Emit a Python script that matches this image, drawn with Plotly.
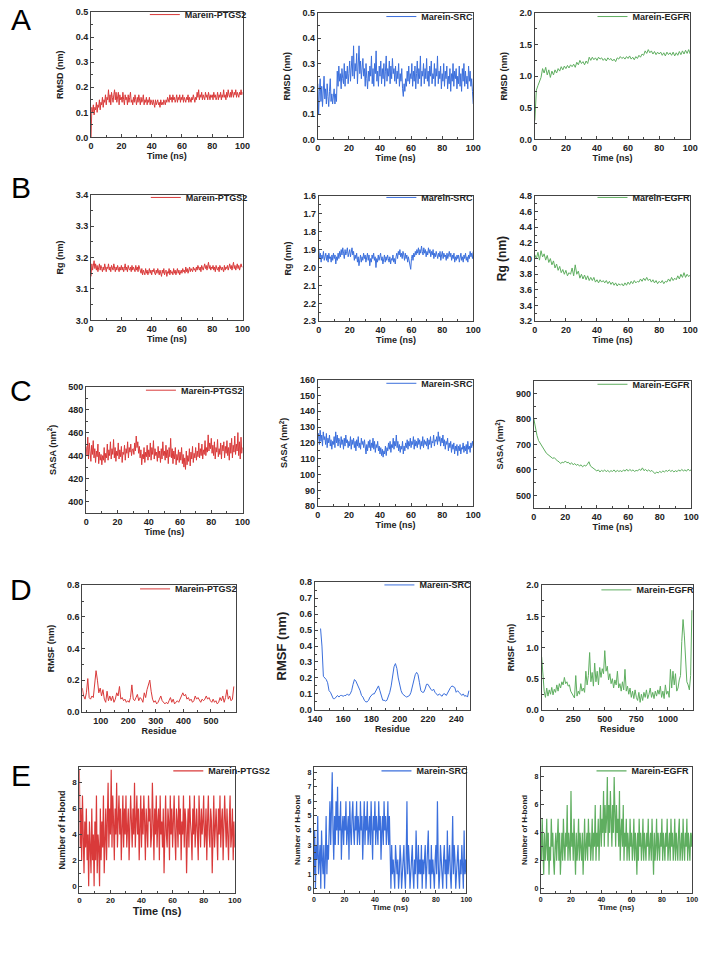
import plotly.graph_objects as go

W, H = 708, 957

# ---------------- DATA ----------------
time_1ns = list(range(0, 101))
time_05ns = [i * 0.5 for i in range(201)]

rmsd_ptgs2 = [0.00, 0.12, 0.10, 0.13, 0.09, 0.12, 0.11, 0.14, 0.10, 0.13, 0.12, 0.15, 0.11, 0.14, 0.13, 0.16, 0.12, 0.15, 0.14, 0.17,
              0.13, 0.16, 0.15, 0.19, 0.14, 0.17, 0.13, 0.18, 0.16, 0.14, 0.17, 0.19, 0.15, 0.18, 0.14, 0.16, 0.18, 0.13, 0.17, 0.15,
              0.16, 0.14, 0.18, 0.15, 0.13, 0.17, 0.15, 0.16, 0.13, 0.17, 0.14, 0.16, 0.18, 0.14, 0.15, 0.13, 0.16, 0.14, 0.17, 0.15,
              0.13, 0.16, 0.14, 0.17, 0.15, 0.13, 0.16, 0.14, 0.15, 0.17, 0.13, 0.15, 0.14, 0.16, 0.13, 0.15, 0.14, 0.16, 0.13, 0.15,
              0.14, 0.13, 0.15, 0.14, 0.12, 0.15, 0.13, 0.14, 0.15, 0.13, 0.14, 0.12, 0.15, 0.13, 0.14, 0.13, 0.15, 0.14, 0.13, 0.15,
              0.14, 0.16, 0.15, 0.14, 0.17, 0.15, 0.16, 0.14, 0.17, 0.15, 0.16, 0.14, 0.15, 0.17, 0.14, 0.16, 0.15, 0.17, 0.14, 0.16,
              0.15, 0.17, 0.14, 0.16, 0.15, 0.14, 0.16, 0.15, 0.17, 0.14, 0.16, 0.15, 0.14, 0.16, 0.15, 0.17, 0.16, 0.14, 0.16, 0.15,
              0.18, 0.16, 0.19, 0.15, 0.17, 0.16, 0.18, 0.15, 0.17, 0.16, 0.15, 0.18, 0.16, 0.17, 0.15, 0.18, 0.16, 0.15, 0.17, 0.16,
              0.17, 0.15, 0.18, 0.16, 0.17, 0.15, 0.16, 0.18, 0.15, 0.17, 0.16, 0.18, 0.15, 0.17, 0.16, 0.19, 0.16, 0.17, 0.15, 0.18,
              0.16, 0.19, 0.17, 0.16, 0.18, 0.16, 0.19, 0.17, 0.16, 0.18, 0.17, 0.19, 0.16, 0.18, 0.17, 0.16, 0.18, 0.17, 0.19, 0.17,
              0.18]
rmsd_src = [0.22, 0.10, 0.19, 0.24, 0.15, 0.21, 0.13, 0.18, 0.25, 0.16, 0.20, 0.14, 0.22, 0.17, 0.13, 0.19, 0.24, 0.15, 0.18, 0.14,
            0.17, 0.20, 0.14, 0.18, 0.15, 0.27, 0.21, 0.29, 0.23, 0.26, 0.20, 0.28, 0.24, 0.22, 0.30, 0.21, 0.27, 0.24, 0.29, 0.22,
            0.26, 0.31, 0.23, 0.28, 0.33, 0.25, 0.37, 0.24, 0.30, 0.27, 0.34, 0.22, 0.29, 0.37, 0.26, 0.31, 0.24, 0.29, 0.32, 0.25,
            0.28, 0.21, 0.30, 0.24, 0.20, 0.27, 0.23, 0.29, 0.25, 0.33, 0.22, 0.28, 0.21, 0.30, 0.26, 0.35, 0.23, 0.27, 0.21, 0.29,
            0.25, 0.31, 0.22, 0.28, 0.24, 0.30, 0.21, 0.27, 0.33, 0.23, 0.28, 0.25, 0.31, 0.22, 0.29, 0.24, 0.32, 0.26, 0.28, 0.23,
            0.29, 0.22, 0.27, 0.24, 0.30, 0.21, 0.26, 0.23, 0.28, 0.20, 0.17, 0.22, 0.19, 0.24, 0.21, 0.27, 0.23, 0.29, 0.22, 0.26,
            0.24, 0.30, 0.21, 0.27, 0.23, 0.29, 0.20, 0.26, 0.31, 0.22, 0.28, 0.24, 0.33, 0.21, 0.27, 0.25, 0.30, 0.22, 0.28, 0.24,
            0.32, 0.23, 0.27, 0.21, 0.29, 0.25, 0.31, 0.22, 0.26, 0.24, 0.30, 0.21, 0.28, 0.25, 0.33, 0.22, 0.27, 0.24, 0.29, 0.20,
            0.26, 0.23, 0.30, 0.21, 0.27, 0.24, 0.29, 0.20, 0.25, 0.22, 0.28, 0.19, 0.26, 0.23, 0.30, 0.21, 0.27, 0.24, 0.28, 0.20,
            0.25, 0.22, 0.29, 0.21, 0.26, 0.19, 0.28, 0.23, 0.30, 0.21, 0.27, 0.22, 0.25, 0.20, 0.29, 0.23, 0.27, 0.21, 0.24, 0.19,
            0.14]
rmsd_egfr = [0.30, 0.78, 0.85, 0.92, 0.98, 1.12, 1.05, 1.14, 1.02, 1.10,
             0.98, 1.08, 1.02, 1.10, 1.05, 1.12, 1.08, 1.15, 1.10, 1.16,
             1.12, 1.17, 1.13, 1.18, 1.15, 1.19, 1.14, 1.22, 1.18, 1.25,
             1.20, 1.23, 1.18, 1.24, 1.20, 1.30, 1.25, 1.30, 1.26, 1.29,
             1.25, 1.30, 1.27, 1.29, 1.25, 1.28, 1.24, 1.29, 1.26, 1.28,
             1.24, 1.27, 1.23, 1.29, 1.27, 1.31, 1.28, 1.30, 1.27, 1.31,
             1.28, 1.32, 1.27, 1.30, 1.26, 1.31, 1.28, 1.33, 1.30, 1.35,
             1.33, 1.40, 1.36, 1.42, 1.37, 1.40, 1.35, 1.39, 1.34, 1.38,
             1.35, 1.38, 1.33, 1.37, 1.32, 1.38, 1.34, 1.37, 1.33, 1.38,
             1.32, 1.37, 1.33, 1.39, 1.34, 1.40, 1.35, 1.41, 1.36, 1.42,
             1.35]

rg_ptgs2 = [3.14, 3.18, 3.16, 3.175, 3.19, 3.165, 3.18, 3.16, 3.175, 3.155, 3.17, 3.18, 3.16, 3.175, 3.165, 3.155, 3.17, 3.16, 3.18, 3.165,
            3.155, 3.17, 3.165, 3.18, 3.16, 3.17, 3.155, 3.175, 3.165, 3.16, 3.18, 3.165, 3.155, 3.17, 3.16, 3.175, 3.165, 3.155, 3.17, 3.16,
            3.175, 3.16, 3.17, 3.155, 3.165, 3.18, 3.16, 3.17, 3.155, 3.175, 3.165, 3.16, 3.17, 3.155, 3.175, 3.16, 3.17, 3.165, 3.155, 3.175,
            3.16, 3.17, 3.155, 3.175, 3.165, 3.16, 3.15, 3.165, 3.145, 3.16, 3.155, 3.145, 3.165, 3.15, 3.16, 3.145, 3.155, 3.165, 3.15, 3.16,
            3.145, 3.16, 3.155, 3.165, 3.15, 3.145, 3.16, 3.15, 3.165, 3.155, 3.145, 3.16, 3.15, 3.14, 3.16, 3.15, 3.165, 3.145, 3.155, 3.16,
            3.14, 3.155, 3.15, 3.165, 3.145, 3.16, 3.15, 3.155, 3.145, 3.165, 3.15, 3.16, 3.145, 3.155, 3.165, 3.15, 3.16, 3.145, 3.155, 3.16,
            3.15, 3.165, 3.155, 3.16, 3.15, 3.17, 3.155, 3.165, 3.15, 3.16, 3.17, 3.155, 3.165, 3.16, 3.155, 3.17, 3.16, 3.165, 3.155, 3.17,
            3.16, 3.175, 3.165, 3.16, 3.17, 3.155, 3.175, 3.165, 3.16, 3.17, 3.18, 3.165, 3.175, 3.16, 3.17, 3.185, 3.165, 3.175, 3.16, 3.17,
            3.165, 3.175, 3.16, 3.17, 3.155, 3.175, 3.165, 3.16, 3.17, 3.155, 3.175, 3.165, 3.16, 3.17, 3.165, 3.155, 3.175, 3.16, 3.17, 3.165,
            3.175, 3.16, 3.17, 3.18, 3.165, 3.175, 3.16, 3.17, 3.185, 3.165, 3.175, 3.16, 3.17, 3.18, 3.165, 3.175, 3.16, 3.17, 3.18, 3.17,
            3.17]
rg_src = [1.90, 1.95, 1.92, 1.97, 1.93, 1.95, 1.91, 1.96, 1.94, 1.92, 1.96, 1.93, 1.97, 1.92, 1.95, 1.94, 1.97, 1.93, 1.96, 1.92,
          1.95, 1.93, 1.98, 1.94, 1.96, 1.92, 1.95, 1.91, 1.94, 1.90, 1.93, 1.89, 1.92, 1.95, 1.90, 1.93, 1.91, 1.89, 1.94, 1.92,
          1.90, 1.94, 1.92, 1.89, 1.93, 1.91, 1.96, 1.93, 1.95, 1.92, 1.97, 1.94, 1.99, 1.95, 1.93, 1.97, 1.94, 1.96, 1.92, 1.95,
          1.93, 1.97, 1.94, 1.92, 1.96, 1.93, 1.99, 1.95, 1.97, 1.93, 1.95, 1.92, 1.96, 1.94, 2.00, 1.95, 1.97, 1.93, 1.96, 1.94,
          1.92, 1.96, 1.94, 1.98, 1.95, 1.93, 1.97, 1.94, 1.96, 1.93, 1.95, 1.97, 1.94, 1.98, 1.95, 1.96, 1.93, 1.97, 1.95, 1.98,
          1.94, 1.92, 1.95, 1.91, 1.93, 1.90, 1.94, 1.92, 1.95, 1.91, 1.93, 1.96, 1.92, 1.95, 1.93, 1.97, 1.94, 1.96, 1.98, 2.01,
          1.95, 1.93, 1.96, 1.92, 1.94, 1.91, 1.93, 1.90, 1.92, 1.89, 1.93, 1.90, 1.92, 1.88, 1.91, 1.93, 1.89, 1.92, 1.90, 1.94,
          1.91, 1.93, 1.89, 1.92, 1.90, 1.94, 1.91, 1.93, 1.90, 1.95, 1.92, 1.94, 1.91, 1.93, 1.95, 1.92, 1.94, 1.91, 1.96, 1.93,
          1.91, 1.95, 1.92, 1.94, 1.93, 1.96, 1.92, 1.95, 1.93, 1.91, 1.94, 1.92, 1.96, 1.93, 1.95, 1.92, 1.97, 1.94, 1.96, 1.93,
          1.95, 1.93, 1.97, 1.94, 1.92, 1.96, 1.94, 1.97, 1.93, 1.95, 1.92, 1.96, 1.94, 1.97, 1.93, 1.95, 1.91, 1.94, 1.92, 1.95,
          1.91]
rg_egfr = [4.05, 4.00, 4.08, 3.98, 4.10, 4.02, 4.06, 3.98, 4.04, 3.95,
           4.00, 3.92, 3.97, 3.88, 3.93, 3.85, 3.90, 3.82, 3.86, 3.80,
           3.85, 3.78, 3.82, 3.80, 3.88, 3.78, 3.92, 3.80, 3.84, 3.75,
           3.80, 3.74, 3.79, 3.73, 3.78, 3.72, 3.76, 3.72, 3.76, 3.70,
           3.73, 3.69, 3.73, 3.70, 3.72, 3.69, 3.72, 3.68, 3.71, 3.67,
           3.70, 3.66, 3.69, 3.65, 3.68, 3.66, 3.68, 3.65, 3.69, 3.66,
           3.70, 3.67, 3.71, 3.68, 3.72, 3.69, 3.71, 3.70, 3.74, 3.71,
           3.75, 3.72, 3.76, 3.72, 3.74, 3.70, 3.73, 3.69, 3.72, 3.68,
           3.71, 3.69, 3.72, 3.68, 3.71, 3.70, 3.74, 3.71, 3.76, 3.72,
           3.75, 3.73, 3.78, 3.74, 3.80, 3.76, 3.82, 3.76, 3.80, 3.77,
           3.79]

sasa_ptgs2 = [448, 440, 456, 437, 451, 443, 435, 449, 441, 453, 438, 446, 434, 444, 439, 450, 433, 443, 436, 441,
              432, 440, 436, 447, 434, 442, 438, 450, 436, 445, 440, 452, 437, 446, 441, 454, 438, 447, 435, 444,
              440, 451, 437, 445, 439, 448, 434, 443, 441, 449, 436, 446, 442, 452, 438, 447, 443, 450, 440, 445,
              446, 441, 451, 444, 457, 447, 452, 442, 448, 438, 445, 432, 441, 437, 447, 434, 443, 439, 449, 436,
              445, 439, 451, 436, 447, 441, 453, 437, 446, 440, 443, 435, 448, 438, 444, 434, 446, 437, 452, 440,
              444, 436, 449, 438, 445, 433, 447, 439, 455, 438, 446, 433, 444, 437, 447, 432, 441, 436, 445, 434,
              443, 436, 447, 433, 441, 430, 438, 428, 444, 432, 440, 435, 446, 431, 443, 437, 448, 434, 442, 438,
              447, 436, 444, 439, 451, 438, 446, 440, 450, 437, 445, 441, 453, 440, 447, 443, 458, 444, 451, 446,
              455, 442, 449, 440, 452, 437, 447, 443, 454, 439, 446, 441, 451, 437, 449, 444, 452, 438, 448, 442,
              453, 440, 447, 436, 451, 442, 455, 438, 449, 443, 457, 441, 450, 444, 460, 440, 452, 437, 456, 442,
              447]
sasa_src = [122, 126, 119, 128, 121, 125, 118, 127, 122, 124, 119, 126, 117, 123, 120, 125, 118, 122, 116, 121,
            119, 124, 117, 127, 120, 125, 118, 123, 121, 117, 124, 119, 122, 116, 123, 118, 125, 120, 122, 117,
            121, 118, 124, 116, 122, 119, 123, 117, 121, 115, 122, 118, 124, 117, 120, 116, 123, 119, 121, 117,
            122, 116, 113, 119, 115, 121, 117, 122, 115, 120, 117, 123, 116, 121, 114, 119, 117, 121, 115, 118,
            113, 117, 112, 116, 111, 115, 113, 118, 112, 117, 115, 120, 116, 121, 114, 119, 117, 123, 116, 121,
            118, 125, 117, 121, 115, 119, 114, 118, 116, 121, 113, 118, 115, 120, 117, 122, 116, 121, 118, 123,
            117, 121, 119, 124, 116, 122, 118, 121, 117, 123, 119, 122, 116, 121, 118, 124, 117, 122, 119, 121,
            118, 123, 116, 122, 119, 124, 117, 121, 120, 125, 118, 122, 121, 124, 119, 127, 121, 124, 118, 123,
            120, 125, 118, 122, 116, 121, 119, 123, 115, 120, 117, 121, 114, 119, 116, 120, 113, 118, 115, 119,
            112, 118, 115, 119, 113, 117, 116, 120, 114, 118, 115, 119, 113, 121, 116, 118, 114, 120, 117, 121,
            118]
sasa_egfr = [800, 760, 735, 715, 705, 690, 685, 670, 665, 660,
             655, 650, 645, 648, 640, 635, 632, 625, 630, 628,
             635, 628, 630, 622, 628, 620, 625, 618, 622, 615,
             620, 612, 618, 615, 622, 632, 615, 610, 605, 600,
             596, 600, 592, 598, 594, 600, 593, 598, 592, 597,
             594, 600, 592, 598, 594, 597, 593, 600, 595, 603,
             595, 602, 596, 600, 594, 598, 596, 603, 598, 608,
             597, 602, 595, 600, 594, 598, 590, 585, 592, 588,
             594, 590, 596, 592, 598, 594, 600, 594, 598, 592,
             597, 593, 600, 595, 602, 596, 600, 595, 603, 597,
             600]

residue_ptgs2 = list(range(33, 584, 5))
rmsf_ptgs2 = [0.15, 0.10, 0.08, 0.12, 0.21, 0.09, 0.08, 0.10, 0.09, 0.16,
              0.26, 0.20, 0.12, 0.15, 0.10, 0.14, 0.08, 0.06, 0.13, 0.07,
              0.10, 0.07, 0.10, 0.06, 0.08, 0.12, 0.10, 0.16, 0.08, 0.09,
              0.07, 0.08, 0.06, 0.07, 0.06, 0.09, 0.17, 0.08, 0.07, 0.09,
              0.11, 0.07, 0.09, 0.08, 0.06, 0.12, 0.09, 0.14, 0.17, 0.20,
              0.13, 0.08, 0.06, 0.07, 0.05, 0.06, 0.08, 0.10, 0.07, 0.06,
              0.05, 0.06, 0.05, 0.07, 0.09, 0.06, 0.08, 0.05, 0.06, 0.07,
              0.06, 0.08, 0.10, 0.12, 0.10, 0.11, 0.08, 0.09, 0.07, 0.08,
              0.06, 0.07, 0.10, 0.08, 0.09, 0.07, 0.06, 0.08, 0.07, 0.08,
              0.10, 0.08, 0.09, 0.07, 0.06, 0.08, 0.06, 0.07, 0.05, 0.06,
              0.09, 0.07, 0.10, 0.06, 0.09, 0.14, 0.08, 0.10, 0.07, 0.08,
              0.16]
residue_src = list(range(144, 250))
rmsf_src = [0.51, 0.40, 0.21, 0.20, 0.19, 0.17, 0.12, 0.11, 0.09, 0.07,
            0.07, 0.08, 0.09, 0.08, 0.09, 0.09, 0.085, 0.09, 0.09, 0.10,
            0.09, 0.10, 0.12, 0.16, 0.19, 0.18, 0.16, 0.15, 0.12, 0.09,
            0.08, 0.06, 0.05, 0.05, 0.06, 0.08, 0.09, 0.10, 0.10, 0.12,
            0.14, 0.15, 0.12, 0.08, 0.06, 0.06, 0.055, 0.06, 0.08, 0.11,
            0.15, 0.21, 0.27, 0.29, 0.26, 0.20, 0.15, 0.12, 0.10, 0.09,
            0.085, 0.08, 0.085, 0.09, 0.11, 0.15, 0.19, 0.22, 0.235, 0.22,
            0.17, 0.12, 0.11, 0.11, 0.13, 0.16, 0.16, 0.14, 0.13, 0.12,
            0.13, 0.11, 0.10, 0.09, 0.10, 0.09, 0.085, 0.10, 0.10, 0.09,
            0.11, 0.13, 0.14, 0.15, 0.145, 0.14, 0.11, 0.12, 0.11, 0.10,
            0.09, 0.10, 0.085, 0.09, 0.08, 0.12]
residue_egfr = list(range(0, 1200, 10))
rmsf_egfr = [0.85, 0.55, 0.30, 0.20, 0.35, 0.22, 0.32, 0.25, 0.36, 0.24,
             0.33, 0.28, 0.40, 0.30, 0.42, 0.35, 0.45, 0.40, 0.52, 0.42,
             0.45, 0.38, 0.40, 0.30, 0.26, 0.22, 0.19, 0.55, 0.22, 0.30,
             0.25, 0.42, 0.30, 0.35, 0.28, 0.62, 0.40, 0.55, 0.92, 0.45,
             0.60, 0.38, 0.75, 0.45, 0.62, 0.40, 0.68, 0.52, 0.66, 0.58,
             0.95, 0.62, 0.70, 0.48, 0.58, 0.42, 0.50, 0.35, 0.48, 0.40,
             0.62, 0.35, 0.42, 0.30, 0.45, 0.32, 0.65, 0.30, 0.38, 0.25,
             0.35, 0.20, 0.30, 0.18, 0.32, 0.20, 0.15, 0.28, 0.12, 0.25,
             0.15, 0.28, 0.20, 0.32, 0.18, 0.25, 0.35, 0.20, 0.28, 0.18,
             0.30, 0.22, 0.32, 0.25, 0.38, 0.20, 0.30, 0.18, 0.40, 0.25,
             0.30, 0.20, 0.65, 0.35, 0.62, 0.40, 0.58, 0.30, 0.35, 0.48,
             0.55, 1.10, 1.45, 1.20, 0.70, 0.45, 0.40, 0.32, 0.55, 1.60]

hbond_ptgs2 = [9, 3, 6, 2, 7, 4, 1, 5, 3, 6, 2, 4, 0, 5, 3, 1, 6, 2, 4, 0,
               5, 2, 7, 1, 4, 3, 0, 6, 2, 5, 3, 7, 1, 4, 6, 2, 5, 8, 3, 6,
               4, 9, 3, 7, 5, 2, 6, 4, 8, 3, 5, 7, 4, 6, 2, 5, 7, 3, 6, 4,
               7, 3, 5, 6, 2, 4, 7, 5, 3, 6, 4, 8, 3, 5, 7, 4, 6, 2, 5, 7,
               3, 6, 4, 7, 5, 2, 6, 4, 3, 7, 5, 6, 3, 4, 8, 5, 2, 6, 4, 7,
               3, 5, 6, 2, 7, 4, 5, 3, 6, 1, 5, 7, 4, 3, 6, 5, 2, 7, 4, 6,
               3, 5, 7, 4, 2, 6, 5, 3, 7, 4, 6, 2, 5, 4, 7, 3, 6, 5, 1, 4,
               6, 3, 7, 5, 4, 2, 6, 4, 7, 3, 5, 6, 4, 2, 7, 5, 3, 6, 4, 5,
               7, 3, 4, 6, 2, 5, 7, 4, 3, 6, 5, 1, 4, 7, 3, 5, 6, 4, 2, 6,
               4, 7, 3, 5, 6, 2, 4, 7, 5, 3, 6, 4, 2, 5, 7, 3, 4, 6, 2, 5,
               3]
hbond_src = [1, 4, 0, 3, 2, 5, 1, 2, 3, 0, 4, 2, 1, 3, 0, 2, 5, 1, 3, 2,
             4, 6, 3, 5, 8, 4, 2, 5, 3, 6, 4, 7, 3, 5, 4, 6, 2, 4, 5, 3,
             5, 4, 6, 3, 4, 5, 2, 6, 4, 3, 5, 6, 4, 3, 5, 4, 6, 3, 5, 4,
             3, 6, 4, 5, 2, 4, 6, 3, 5, 4, 6, 3, 4, 5, 3, 6, 4, 2, 5, 4,
             6, 3, 5, 4, 3, 6, 4, 5, 2, 4, 5, 3, 6, 4, 5, 3, 4, 6, 3, 5,
             2, 0, 3, 1, 2, 1, 0, 3, 2, 1, 2, 0, 1, 3, 2, 0, 1, 2, 3, 1,
             0, 2, 6, 1, 3, 2, 0, 1, 2, 3, 1, 0, 2, 1, 4, 2, 0, 3, 1, 2,
             1, 3, 0, 2, 1, 2, 3, 0, 1, 2, 4, 1, 2, 0, 3, 1, 2, 1, 0, 2,
             3, 1, 6, 2, 0, 1, 3, 2, 1, 0, 2, 3, 1, 2, 0, 4, 1, 2, 3, 1,
             0, 2, 5, 1, 3, 2, 0, 1, 2, 3, 1, 0, 2, 1, 3, 2, 0, 4, 1, 2,
             1]
hbond_egfr = [4, 2, 5, 3, 1, 4, 2, 3, 5, 2, 4, 1, 3, 2, 5, 3, 4, 2, 1, 3,
              4, 2, 3, 5, 2, 4, 1, 3, 4, 2, 5, 3, 2, 4, 3, 6, 2, 4, 3, 2,
              7, 3, 4, 2, 5, 3, 1, 4, 2, 3, 5, 2, 4, 3, 2, 4, 1, 3, 5, 2,
              3, 4, 2, 5, 3, 4, 2, 3, 5, 2, 4, 3, 6, 2, 4, 3, 5, 2, 4, 6,
              3, 5, 4, 7, 3, 6, 4, 5, 8, 3, 6, 4, 7, 5, 3, 6, 4, 8, 5, 3,
              6, 4, 5, 3, 7, 2, 4, 5, 3, 6, 2, 4, 3, 5, 2, 4, 3, 2, 5, 3,
              4, 2, 3, 5, 2, 4, 3, 1, 4, 2, 5, 3, 4, 2, 3, 5, 2, 4, 3, 2,
              4, 3, 5, 2, 3, 4, 2, 5, 3, 1, 4, 2, 3, 5, 2, 4, 3, 2, 4, 3,
              5, 2, 4, 3, 2, 4, 3, 5, 2, 3, 4, 2, 5, 3, 4, 2, 3, 5, 2, 4,
              3, 2, 4, 5, 2, 3, 4, 2, 5, 3, 2, 4, 3, 5, 2, 4, 3, 2, 4, 3,
              4]

names = ["Marein-PTGS2", "Marein-SRC", "Marein-EGFR"]
colors = ["#d93a3a", "#3b6fdc", "#5fae60"]
row_letters = ["A", "B", "C", "D", "E"]

# ---------------- LAYOUT SPEC ----------------
FONT = "Arial, Liberation Sans, sans-serif"
panels = [
    (time_05ns, rmsd_ptgs2, 85, 240, 6, 133, [0, 100], 20, 0, 10, [0, 0.5], 0.1, 0, 0.05, "Time (ns)", "RMSD (nm)", 186, 11, 9, 9, 9, ".1f"),
    (time_05ns, rmsd_src, 317, 476, 7, 135, [0, 100], 20, 0, 10, [0, 0.5], 0.1, 0, 0.05, "Time (ns)", "RMSD (nm)", 428, 13, 9, 9, 9, ".1f"),
    (time_1ns, rmsd_egfr, 539, 698, 7, 135, [0, 100], 20, 0, 10, [0, 2.0], 0.5, 0, 0.25, "Time (ns)", "RMSD (nm)", 644, 13, 9, 9, 9, ".1f"),
    (time_05ns, rg_ptgs2, 85, 240, 191, 318, [0, 100], 20, 0, 10, [3.0, 3.4], 0.1, 3.0, 0.05, "Time (ns)", "Rg (nm)", 187, 196, 9, 9, 9, ".1f"),
    (time_05ns, rg_src, 318, 476, 192, 319, [0, 100], 20, 0, 10, [2.3, 1.6], 0.1, 1.6, 0.05, "Time (ns)", "Rg (nm)", 428, 196, 9, 9, 9, ".1f"),
    (time_1ns, rg_egfr, 539, 698, 192, 319, [0, 100], 20, 0, 10, [3.2, 4.8], 0.2, 3.2, 0.1, "Time (ns)", "Rg (nm)", 644, 196, 12, 9, 9, ".1f"),
    (time_05ns, sasa_ptgs2, 80, 240, 385, 513, [0, 100], 20, 0, 10, [390, 500], 20, 400, 10, "Time (ns)", "SASA (nm<sup>2</sup>)", 182, 391, 9, 9, 9, "d"),
    (time_05ns, sasa_src, 317, 476, 378, 506, [0, 100], 20, 0, 10, [80, 160], 10, 80, 5, "Time (ns)", "SASA (nm<sup>2</sup>)", 428, 384, 9, 9, 9, "d"),
    (time_1ns, sasa_egfr, 538, 699, 379, 508, [0, 100], 20, 0, 10, [450, 950], 100, 500, 50, "Time (ns)", "SASA (nm<sup>2</sup>)", 644, 385, 9, 9, 9, "d"),
    (residue_ptgs2, rmsf_ptgs2, 76, 233, 586, 714, [33, 590], 100, 100, 50, [0, 0.8], 0.2, 0, 0.1, "Residue", "RMSF (nm)", 176, 592, 9, 9, 9, ".1f"),
    (residue_src, rmsf_src, 314, 473, 583, 712, [140, 250], 20, 140, 10, [0, 0.8], 0.1, 0, 0.05, "Residue", "RMSF (nm)", 426, 588, 13, 9, 9, ".1f"),
    (residue_egfr, rmsf_egfr, 546, 701, 586, 712, [0, 1200], 250, 0, 125, [0, 2.0], 0.5, 0, 0.25, "Residue", "RMSF (nm)", 648, 593, 9, 9, 9, ".1f"),
    (time_05ns, hbond_ptgs2, 73, 232, 770, 897, [0, 100], 20, 0, 10, [-0.5, 9.2], 2, 0, 1, "Time (ns)", "Number of H-bond", 210, 776, 9, 11, 8, "d"),
    (time_05ns, hbond_src, 313, 469, 770, 897, [0, 100], 20, 0, 10, [-0.27, 8.35], 1, 0, 0.5, "Time (ns)", "Number of H-bond", 423, 776, 8, 8, 7, "d"),
    (time_05ns, hbond_egfr, 545, 700, 770, 897, [0, 100], 20, 0, 10, [-0.28, 8.7], 2, 0, 1, "Time (ns)", "Number of H-bond", 643, 776, 8, 8, 7, "d"),
]

letter_y = [14, 184, 389, 590, 778]

fig = go.Figure()
layout = dict(
    width=W, height=H, margin=dict(l=0, r=0, t=0, b=0),
    paper_bgcolor="white", plot_bgcolor="white",
    font=dict(family=FONT, color="#222"),
    annotations=[], showlegend=True,
)

for i, p in enumerate(panels):
    (xs, ys, l, r, t, b, xr, xdt, xt0, xmin, yr, ydt, yt0, ymin,
     xtitle, ytitle, lgx, lgy, yts, xts, tks, yfmt) = p
    n = i + 1
    sfx = "" if n == 1 else str(n)
    lg = "legend" + sfx
    col = i % 3
    is_hbond = i >= 12
    fig.add_trace(go.Scatter(
        x=xs, y=ys, mode="lines", name=names[col],
        line=dict(color=colors[col], width=1.2 if is_hbond else 1),
        xaxis="x" + sfx, yaxis="y" + sfx, legend=lg,
    ))
    tickfont = dict(size=tks, family=FONT, color="#222", weight="bold")
    common = dict(showline=True, linecolor="#444", linewidth=1, mirror=True,
                  ticks="inside", ticklen=3, tickcolor="#444", showgrid=False,
                  zeroline=False, tickfont=tickfont)
    layout["xaxis" + sfx] = dict(
        domain=[l / W, r / W], anchor="y" + sfx, range=xr, dtick=xdt, tick0=xt0,
        minor=dict(ticks="inside", ticklen=2, dtick=xmin, tick0=xt0, tickcolor="#444"),
        title=dict(text=xtitle, font=dict(size=xts, family=FONT, color="#222", weight="bold"), standoff=2),
        **common)
    layout["yaxis" + sfx] = dict(
        domain=[1 - b / H, 1 - t / H], anchor="x" + sfx, range=yr, dtick=ydt, tick0=yt0,
        tickformat=yfmt,
        minor=dict(ticks="inside", ticklen=2, dtick=ymin, tick0=yt0, tickcolor="#444"),
        title=dict(text=ytitle, font=dict(size=yts, family=FONT, color="#222", weight="bold"),
                   standoff=5 if is_hbond else 10),
        **common)
    layout[lg] = dict(
        x=(lgx - 46) / W, y=1 - (lgy - 17) / H, xanchor="left", yanchor="top",
        bgcolor="rgba(0,0,0,0)", borderwidth=0,
        font=dict(size=9, family=FONT, color="#222", weight="bold"),
        itemclick=False,
    )

for k, letter in enumerate(row_letters):
    layout["annotations"].append(dict(
        text=letter, x=13 / W, y=1 - letter_y[k] / H, xref="paper", yref="paper",
        xanchor="center", yanchor="middle", showarrow=False,
        font=dict(size=30, family=FONT, color="black"),
    ))

fig.update_layout(**layout)
fig.write_html("out.html")
